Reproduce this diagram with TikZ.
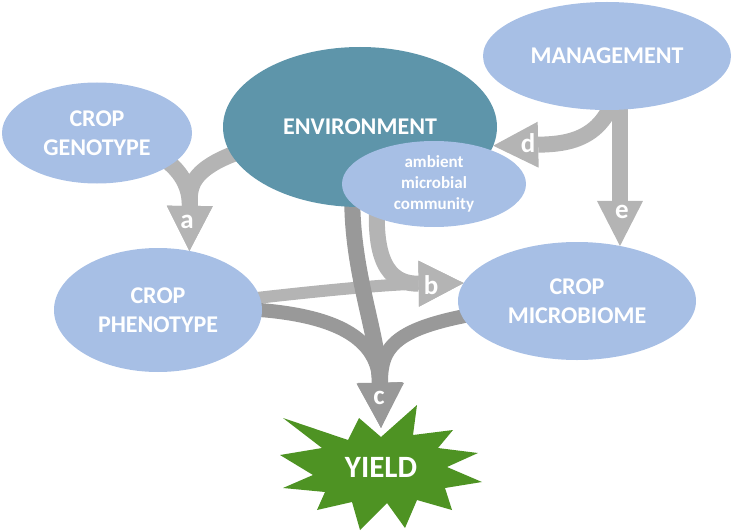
\documentclass[tikz,border=0pt]{standalone}
\usepackage{fontspec}
\setmainfont{Carlito}
\usetikzlibrary{shapes.geometric, arrows.meta, positioning, backgrounds}
\definecolor{azul}{HTML}{A7BFE5}
\definecolor{verdeazul}{HTML}{5E95AA}
\definecolor{grisclaro}{HTML}{B4B4B4}
\definecolor{grisoscuro}{HTML}{999999}
\definecolor{verde}{HTML}{4E9323}

\begin{document}
\begin{tikzpicture}[x=1pt, y=-1pt,
      ovalo/.style={ellipse, fill=azul, inner sep=0pt, outer sep=0pt,
        align=center, text=white, font=\fontsize{24pt}{29pt}\selectfont\bfseries},
      flecha/.style={draw=grisclaro, line width=16pt,
        -{Triangle[width=46pt, length=45pt, line width=0pt]}},
      flechaosc/.style={flecha, draw=grisoscuro},
      letra/.style={text=white, font=\fontsize{27pt}{27pt}\selectfont\bfseries}
    ]
      \useasboundingbox (0,0) rectangle (733,532);

      \node[ovalo, minimum width=248pt, minimum height=108pt] (mgmt) at (607,56) {MANAGEMENT};
      \node[ovalo, minimum width=190pt, minimum height=101pt] (geno) at (97,133) {CROP\\GENOTYPE};
      \node[ovalo, fill=verdeazul, minimum width=274pt, minimum height=160pt] (env) at (360,127) {ENVIRONMENT};
      \node[ovalo, minimum width=184pt, minimum height=86pt,
        font=\fontsize{17pt}{21pt}\selectfont\bfseries] (amb) at (434,184) {ambient\\microbial\\community};
      \node[ovalo, minimum width=208pt, minimum height=124pt] (pheno) at (158,310) {CROP\\PHENOTYPE};
      \node[ovalo, minimum width=238pt, minimum height=118pt] (micro) at (577,301) {CROP\\MICROBIOME};

      \fill[verde] (283,418) -- (348,440) -- (359,418) -- (381,437) -- (417,405) -- (413,435)
        -- (453,430) -- (438,448) -- (478,453) -- (447,467) -- (482,482) -- (445,488)
        -- (452,510) -- (417,500) -- (405,528) -- (387,503) -- (360,530) -- (352,502)
        -- (317,510) -- (325,492) -- (283,488) -- (313,475) -- (280,455) -- (322,448) -- cycle;
      \node[text=white, font=\fontsize{31pt}{31pt}\selectfont\bfseries,
        minimum height=78pt] (yield) at (381,467) {YIELD};

      \begin{scope}[on background layer]
        \draw[flecha] (geno.center) .. controls (180,150) and (190,185) .. (pheno.62);
        \draw[flecha] (env.center) .. controls (180,150) and (190,185) .. (pheno.62);
        \draw[flecha, line width=12pt] (pheno.center) .. controls (330,288) and (400,284) .. (micro.171);
        \draw[flecha, shorten <=-20pt] (amb.210) .. controls (372,270) and (395,284) .. (micro.171);
        \draw[flecha] (mgmt.center -| micro.52) .. controls (619,140) and (570,144) .. (env.-8);
        \draw[flecha] (mgmt.center -| micro.52) -- (micro.52);
        \draw[flechaosc, line width=14pt] (pheno.center) .. controls (330,300) and (378,335) .. (yield.north);
        \draw[flechaosc, line width=14pt] (micro.center) .. controls (400,318) and (381,338) .. (yield.north);
        \draw[flechaosc] (env.center) .. controls (335,240) and (378,320) .. (yield.north);
      \end{scope}

      \node[letra] (la) at (187,222) {a};
      \node[letra] (lb) at (431,285) {b};
      \node[letra] (lc) at (379,398) {c};
      \node[letra] (ld) at (528,143) {d};
      \node[letra] (le) at (622,212) {e};
    \end{tikzpicture}
\end{document}
